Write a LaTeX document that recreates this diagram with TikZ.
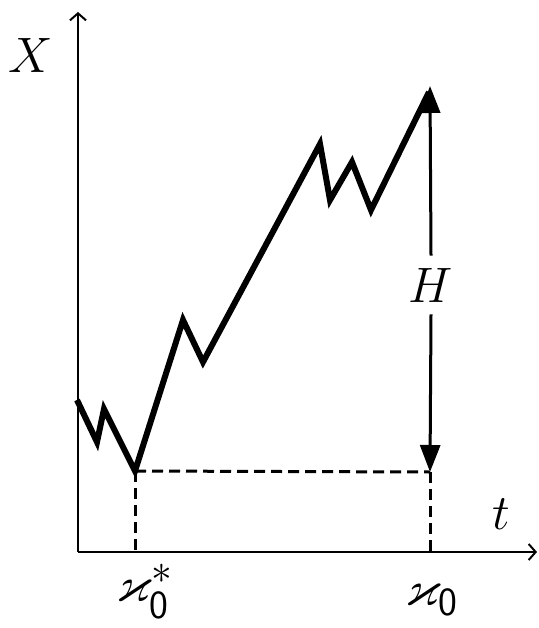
\documentclass[tikz,border=0pt]{standalone}
\usepackage{amssymb}
\usetikzlibrary{arrows.meta}
\newcommand{\subzero}{\hbox{\fontsize{20}{24}\selectfont\sffamily 0}}
\begin{document}
\begin{tikzpicture}[x=1pt,y=-1pt,
  axis/.style={line width=2pt,-{Straight Barb[length=7pt,width=16pt,line width=2pt]}},
  walk/.style={line width=6pt,line join=miter},
  guide/.style={line width=3pt,dash pattern=on 11pt off 6pt},
  harrow/.style={line width=3pt,-{Triangle[length=27pt,width=20pt]}},
  lbl/.style={inner sep=0pt,scale=2,transform shape,font=\fontsize{24.88}{30}\selectfont}]
\useasboundingbox (0,0) rectangle (538,628);
% axes
\coordinate (O) at (78,552);
\coordinate (ytop) at (78,12);
\coordinate (xend) at (537,552);
\draw[axis] (O) -- (ytop);
\draw[axis] (O) -- (xend);
\node[lbl] (X) at (31,56) {$X$};
\node[lbl] (t) at (501,514) {$t$};
% walk
\coordinate (p0) at (77,400);
\coordinate (p1) at (97,442);
\coordinate (p2) at (104,409);
\coordinate (p3) at (135,471);
\coordinate (p4) at (183,320);
\coordinate (p5) at (203,362);
\coordinate (p6) at (320,144);
\coordinate (p7) at (330,200);
\coordinate (p8) at (352,162);
\coordinate (p9) at (371,210);
\coordinate (p10) at (429,92);
\draw[walk] (p0) -- (p1) -- (p2) -- (p3) -- (p4) -- (p5) -- (p6) -- (p7) -- (p8) -- (p9) -- (p10);
% guides
\coordinate (q) at (430,472);
\coordinate (b1) at (135,552);
\coordinate (b2) at (430,552);
\draw[guide] (p3) -- (q);
\draw[guide] (p3) -- (b1);
\draw[guide] (q) -- (b2);
% H arrow
\coordinate (htop) at (430,86);
\node[lbl,inner sep=6pt] (H) at (431,285) {$H$};
\draw[harrow] (H.north) -- (htop);
\draw[harrow] (H.south) -- (q);
% labels
\node[lbl] (k1) at (145,592) {$\varkappa_{\subzero}^{*}$};
\node[lbl] (k2) at (432,600) {$\varkappa_{\subzero}$};
\end{tikzpicture}
\end{document}
